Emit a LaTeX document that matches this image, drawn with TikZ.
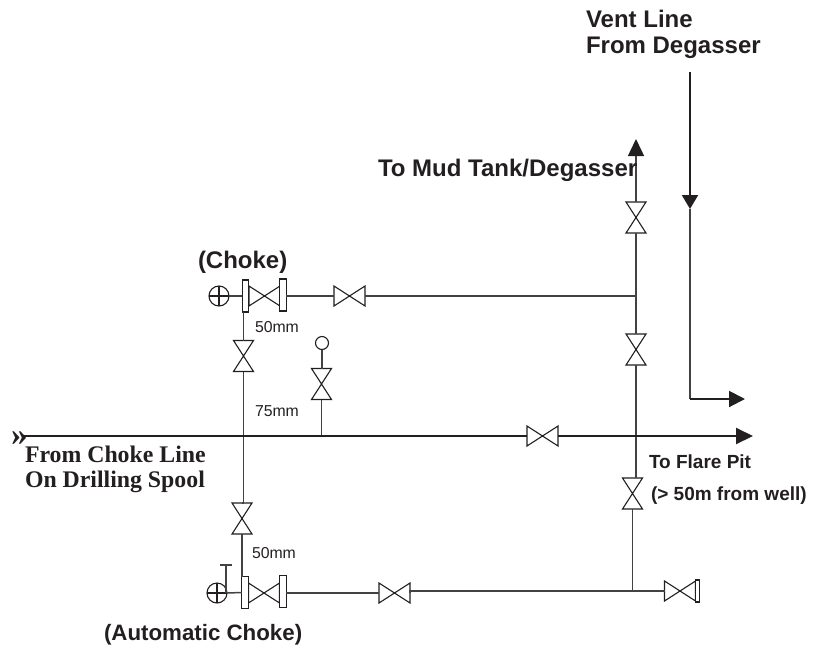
\documentclass[tikz,border=0pt]{standalone}
\usepackage{fontspec}
\setmainfont{Liberation Sans}
\newfontfamily\serifbf{Liberation Serif}[BoldFont={Liberation Serif Bold}]
\usetikzlibrary{arrows.meta}
\definecolor{ink}{HTML}{231F20}
\tikzset{
  pipe/.style={draw=ink!85,line width=1.5pt},
  heavy/.style={draw=ink,line width=2pt},
  vbox/.style={inner sep=0pt,outer sep=0pt,minimum width=#1,minimum height=20pt,shape=rectangle},
  bowtie/.style={draw=ink,line width=1.1pt,line join=miter},
  flange/.style={draw=ink,line width=1.1pt,fill=white,inner sep=0pt,outer sep=0pt,minimum width=6.5pt,minimum height=32pt},
  wheel/.style={draw=ink,line width=1.1pt,circle,inner sep=0pt,outer sep=0pt,minimum size=20pt},
  lbl/.style={inner sep=0pt,outer sep=0pt,text=ink,font=\fontsize{24}{24}\selectfont\bfseries,anchor=base west},
  lblb/.style={inner sep=0pt,outer sep=0pt,text=ink,font=\fontsize{22.3}{22.3}\selectfont\bfseries,anchor=base west},
  small/.style={inner sep=0pt,outer sep=0pt,text=ink,font=\fontsize{15.8}{15.8}\selectfont,anchor=base west},
  note/.style={inner sep=0pt,outer sep=0pt,text=ink,font=\fontsize{19}{19}\selectfont\bfseries,anchor=base west},
  serif/.style={inner sep=0pt,outer sep=0pt,text=ink,font=\serifbf\fontsize{23.8}{23.8}\selectfont\bfseries,anchor=base west},
  head/.style={-{Triangle[length=#1,width=16pt,color=ink]}}
}
\newcommand{\hvalve}[3][31pt]{\node[vbox=#1] (#2) at (#3) {};
  \draw[bowtie] (#2.north west) -- (#2.south east) -- (#2.north east) -- (#2.south west) -- cycle;}
\newcommand{\vvalve}[2]{\node[vbox=20pt,minimum height=31pt] (#1) at (#2) {};
  \draw[bowtie] (#1.north west) -- (#1.south east) -- (#1.south west) -- (#1.north east) -- cycle;}
\newcommand{\wheelnode}[2]{\node[wheel] (#1) at (#2) {};
  \draw[bowtie] (#1.north) -- (#1.south) (#1.west) -- (#1.east);}
\begin{document}
\begin{tikzpicture}[x=1pt,y=-1pt]
\useasboundingbox (0,0) rectangle (822,646);
% valves
\hvalve{vA}{264.5,296}
\hvalve{vB}{349.5,296}
\vvalve{vC}{243.5,356}
\vvalve{vD}{242,518.5}
\vvalve{vS}{321.5,384}
\hvalve{vM}{542.5,436}
\hvalve{vE}{264,593}
\hvalve{vF}{394.5,593}
\hvalve{vG}{680,591}
\vvalve{vU}{636,217.5}
\vvalve{vV}{636,349.5}
\vvalve{vW}{632.5,493.5}
% flanges and handwheels
\node[flange] (fA) at (245.5,296) {};
\node[flange] (fB) at (283,295) {};
\node[flange] (fE) at (245,592.5) {};
\node[flange] (fF) at (283,591.5) {};
\node[flange,minimum width=4.5pt,minimum height=22pt] (fG) at (697.5,591) {};
\wheelnode{wA}{219,296}
\wheelnode{wE}{217,593}
\node[draw=ink,line width=1.1pt,circle,inner sep=0pt,outer sep=0pt,minimum size=13pt] (gauge) at (322,343) {};
% junctions and free ends
\coordinate (start) at (22,436);
\coordinate (endM) at (753,436);
\coordinate (jS) at (321.5,436);
\coordinate (jT) at (636,296);
\coordinate (jV) at (636,478);
\coordinate (top) at (636,139);
\coordinate (ventTop) at (690,72);
\coordinate (ventMid) at (690,209);
\coordinate (ventCorner) at (690,399);
\coordinate (ventEnd) at (745,399);
\coordinate (tTop) at (226,565);
\coordinate (tL) at (220,565);
\coordinate (tR) at (232,565);
\coordinate (tBase) at (226,593);
% pipes
\draw[pipe] (wA.east) -- (fA.west);
\draw[pipe] (fB.east |- vB.west) -- (vB.west);
\draw[pipe] (vB.east) -- (jT);
\draw[pipe] (vC.north |- fA.south) -- (vC.north);
\draw[pipe] (vC.south) -- (vC.south |- vD.north) -- (vD.north);
\draw[pipe] (vD.south) -- (vD.south |- fE.north);
\draw[pipe] (vS.north -| gauge.south) -- (gauge.south);
\draw[pipe] (vS.south) -- (jS);
\draw[pipe] (wE.east) -- (fE.west);
\draw[pipe] (fF.east |- vF.west) -- (vF.west);
\draw[pipe] (vF.east) -- (vF.east |- vG.west) -- (vG.west);
\draw[pipe] (tL) -- (tR);
\draw[pipe] (tTop) -- (tBase);
\draw[pipe] (vW.south) -- (vW.south |- vG.west);
\draw[pipe] (vV.south) -- (jV);
\draw[pipe] (vV.north) -- (vU.south);
\draw[pipe,head=17pt] (vU.north) -- (top);
\draw[heavy] (start) -- (vM.west);
\draw[heavy,head=17pt] (vM.east) -- (endM);
\draw[heavy,head=14pt] (ventTop) -- (ventMid);
\draw[pipe] (ventMid) -- (ventCorner);
\draw[heavy,head=16pt] (ventCorner) -- (ventEnd);
% labels
\node[serif,font=\serifbf\fontsize{33}{33}\selectfont\bfseries] (chev) at (11,445) {»};
\node[lbl] (t1) at (586,27) {Vent Line};
\node[lbl] (t2) at (586,53) {From Degasser};
\node[lbl] (t3) at (378,176) {To Mud Tank/Degasser};
\node[lbl] (t4) at (198,268) {(Choke)};
\node[small] (t5) at (255,332) {50mm};
\node[small] (t6) at (255,416) {75mm};
\node[serif] (t7) at (25,462) {From Choke Line};
\node[serif] (t8) at (25,487) {On Drilling Spool};
\node[note] (t9) at (649,468) {To Flare Pit};
\node[note] (t10) at (651,500) {(> 50m from well)};
\node[small] (t11) at (252,558) {50mm};
\node[lblb] (t12) at (104,640) {(Automatic Choke)};
\end{tikzpicture}
\end{document}
